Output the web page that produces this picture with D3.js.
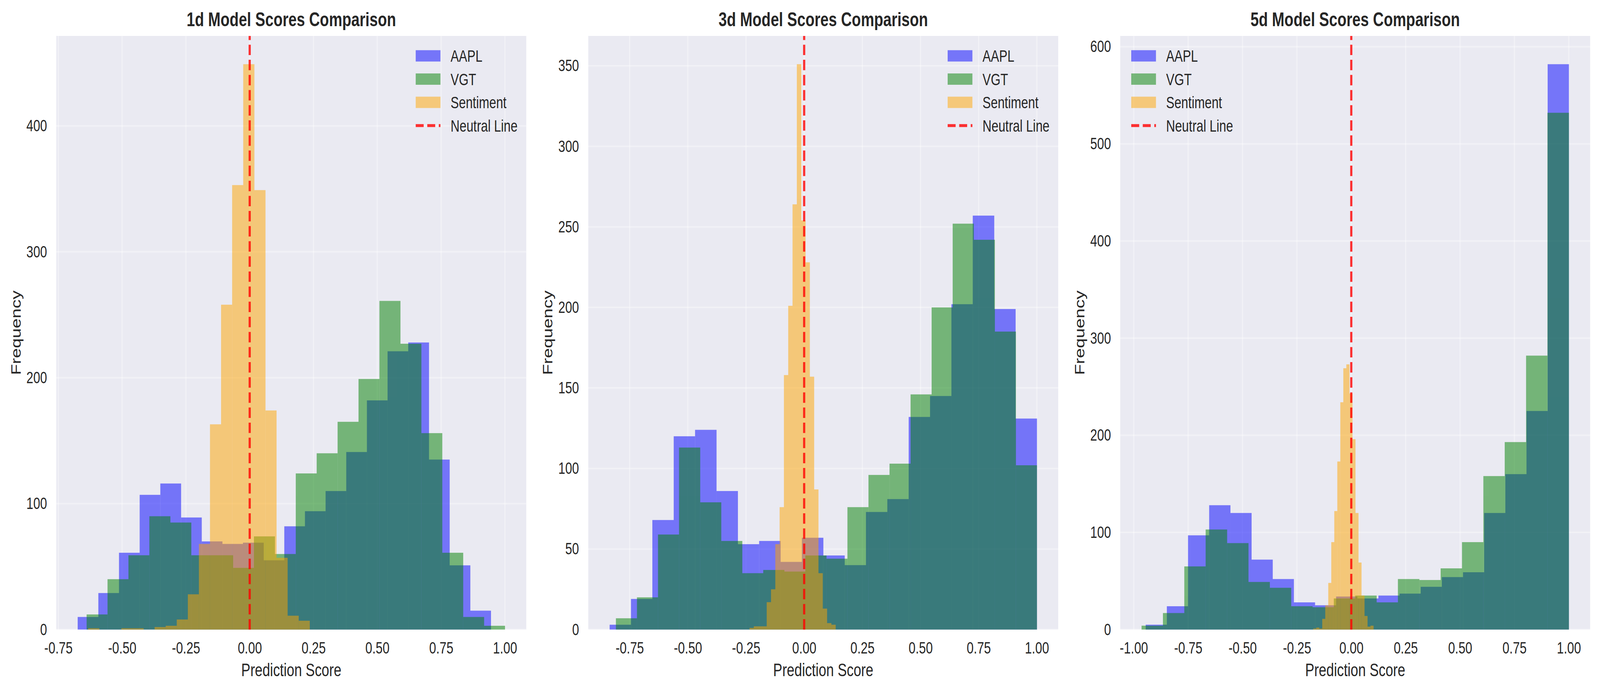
<!DOCTYPE html>
<html>
<head>
<meta charset="utf-8">
<script src="https://cdn.jsdelivr.net/npm/d3@7"></script>
<style>
  html, body { margin: 0; padding: 0; background: #fff; overflow: hidden; width: 100%; height: 100%; }
  #chart svg { display: block; }
  text { font-family: "Liberation Sans", Arial, sans-serif; fill: #262626; }
</style>
</head>
<body>
<div id="chart"></div>
<script>
// histogram counts, 20 equal bins per series between its min and max
const horizons = ["1d", "3d", "5d"];
const seriesNames = ["AAPL", "VGT", "Sentiment"];
const seriesColors = ["#0000ff", "#008000", "#ffa500"];

const aapl1d = [10, 29, 61, 107, 116, 89, 70, 68, 69, 55, 82, 94, 110, 141, 182, 221, 228, 135, 51, 15];
const vgt1d = [12, 40, 59, 90, 85, 59, 59, 49, 74, 60, 124, 140, 165, 199, 261, 227, 156, 61, 10, 3];
const sent1d = [1, 0, 0, 1, 1, 0, 2, 3, 8, 28, 68, 163, 258, 353, 449, 349, 174, 57, 11, 7];
const aapl1dRange = [-0.674, 0.945];
const vgt1dRange = [-0.639, 1.0];
const sent1dRange = [-0.633, 0.235];

const aapl3d = [3, 19, 68, 120, 124, 86, 53, 55, 42, 57, 46, 40, 73, 81, 132, 145, 202, 257, 199, 131];
const vgt3d = [7, 20, 59, 113, 79, 55, 35, 37, 36, 46, 44, 76, 96, 103, 146, 200, 252, 242, 185, 102];
const sent3d = [1, 2, 2, 2, 17, 25, 53, 76, 158, 201, 264, 351, 254, 228, 157, 87, 35, 13, 4, 3];
const aapl3dRange = [-0.836, 1.0];
const vgt3dRange = [-0.809, 1.0];
const sent3dRange = [-0.235, 0.135];

const aapl5d = [5, 24, 97, 128, 120, 72, 52, 28, 25, 34, 32, 35, 37, 44, 54, 59, 120, 160, 225, 582];
const vgt5d = [4, 17, 65, 103, 89, 49, 43, 24, 23, 32, 35, 28, 52, 51, 63, 90, 158, 193, 282, 532];
const sent5d = [1, 2, 1, 11, 25, 48, 90, 122, 173, 234, 269, 273, 243, 196, 120, 69, 35, 14, 3, 4];
const aapl5dRange = [-0.945, 1.0];
const vgt5dRange = [-0.964, 1.0];
const sent5dRange = [-0.175, 0.102];

const xTicks1d = [-0.75, -0.5, -0.25, 0, 0.25, 0.5, 0.75, 1.0];
const xTicks3d = [-0.75, -0.5, -0.25, 0, 0.25, 0.5, 0.75, 1.0];
const xTicks5d = [-1.0, -0.75, -0.5, -0.25, 0, 0.25, 0.5, 0.75, 1.0];
const yTicks1d = [0, 100, 200, 300, 400];
const yTicks3d = [0, 50, 100, 150, 200, 250, 300, 350];
const yTicks5d = [0, 100, 200, 300, 400, 500, 600];

const panels = [
  {counts: [aapl1d, vgt1d, sent1d], ranges: [aapl1dRange, vgt1dRange, sent1dRange], xTicks: xTicks1d, yTicks: yTicks1d, legendLeft: false},
  {counts: [aapl3d, vgt3d, sent3d], ranges: [aapl3dRange, vgt3dRange, sent3dRange], xTicks: xTicks3d, yTicks: yTicks3d, legendLeft: false},
  {counts: [aapl5d, vgt5d, sent5d], ranges: [aapl5dRange, vgt5dRange, sent5dRange], xTicks: xTicks5d, yTicks: yTicks5d, legendLeft: true}
];

const W = 5369, H = 1769;
const axesLeft = [189, 1974, 3759];
const axesTop = 92;
const width = 1577;
const height = 1611.7 - axesTop;

const fmt = d3.formatLocale({decimal: ".", thousands: ",", grouping: [3], currency: ["$", ""], minus: "-"}).format(".2f");

// drawn in a 5369x1769 coordinate system, stretched to whatever the window is
const svg = d3.select("#chart")
  .append("svg")
  .attr("viewBox", "0 0 " + W + " " + H)
  .attr("preserveAspectRatio", "none")
  .style("width", "100vw")
  .style("height", "100vh");

svg.append("rect")
  .attr("width", W)
  .attr("height", H)
  .attr("fill", "#fff");

panels.forEach(function(p, i) {
  const g = svg.append("g")
    .attr("transform", "translate(" + axesLeft[i] + "," + axesTop + ")");

  const lo = d3.min(p.ranges, function(r) { return r[0]; });
  const hi = d3.max(p.ranges, function(r) { return r[1]; });
  const pad = (hi - lo) * 0.05;
  const x = d3.scaleLinear().domain([lo - pad, hi + pad]).range([0, width]);
  const yMax = d3.max(p.counts, function(c) { return d3.max(c); });
  const y = d3.scaleLinear().domain([0, yMax * 1.05]).range([height, 0]);

  g.append("rect")
    .attr("width", width)
    .attr("height", height)
    .attr("fill", "#eaeaf2");

  // grid
  g.selectAll(".vgrid")
    .data(p.xTicks)
    .enter()
    .append("line")
    .attr("x1", function(d) { return x(d); })
    .attr("x2", function(d) { return x(d); })
    .attr("y1", 0)
    .attr("y2", height)
    .attr("stroke", "#fff")
    .attr("stroke-opacity", 0.35)
    .attr("stroke-width", 4.2);

  g.selectAll(".hgrid")
    .data(p.yTicks)
    .enter()
    .append("line")
    .attr("x1", 0)
    .attr("x2", width)
    .attr("y1", function(d) { return y(d); })
    .attr("y2", function(d) { return y(d); })
    .attr("stroke", "#fff")
    .attr("stroke-opacity", 0.35)
    .attr("stroke-width", 4.2);

  // histograms
  p.counts.forEach(function(counts, s) {
    const r = p.ranges[s];
    const step = (r[1] - r[0]) / counts.length;
    const bars = counts.map(function(c, k) {
      return {x0: r[0] + k * step, x1: r[0] + (k + 1) * step, count: c};
    });
    g.append("g")
      .attr("opacity", 0.5)
      .selectAll("rect")
      .data(bars.filter(function(b) { return b.count > 0; }))
      .enter()
      .append("rect")
      .attr("x", function(d) { return x(d.x0); })
      .attr("width", function(d) { return x(d.x1) - x(d.x0) + 0.4; })
      .attr("y", function(d) { return y(d.count); })
      .attr("height", function(d) { return y(0) - y(d.count); })
      .attr("fill", seriesColors[s]);
  });

  // neutral line
  g.append("line")
    .attr("x1", x(0))
    .attr("x2", x(0))
    .attr("y1", height)
    .attr("y2", 0)
    .attr("stroke", "red")
    .attr("stroke-opacity", 0.8)
    .attr("stroke-width", 7.3)
    .attr("stroke-dasharray", "26.7 12");

  // axes
  const xAxis = g.append("g")
    .attr("transform", "translate(0," + height + ")")
    .call(d3.axisBottom(x).tickValues(p.xTicks).tickFormat(fmt).tickSize(0).tickPadding(31.4));
  const yAxis = g.append("g")
    .call(d3.axisLeft(y).tickValues(p.yTicks).tickFormat(d3.format("d")).tickSize(0).tickPadding(31));
  [xAxis, yAxis].forEach(function(a) {
    a.select(".domain").remove();
    a.selectAll("text")
      .attr("fill", "#262626")
      .style("font-size", "41.7px")
      .style("font-family", "'Liberation Sans', Arial, sans-serif");
  });

  g.append("text")
    .attr("x", width / 2)
    .attr("y", -25)
    .attr("text-anchor", "middle")
    .style("font-size", "50px")
    .style("font-weight", "bold")
    .text(horizons[i] + " Model Scores Comparison");

  g.append("text")
    .attr("x", width / 2)
    .attr("y", height + 119.5)
    .attr("text-anchor", "middle")
    .style("font-size", "45.8px")
    .text("Prediction Score");

  g.append("text")
    .attr("transform", "translate(-120," + (height / 2) + ") rotate(-90)")
    .attr("text-anchor", "middle")
    .style("font-size", "45.8px")
    .text("Frequency");

  // legend
  const lx = p.legendLeft ? 37 : width - 371;
  const entries = seriesNames.concat(["Neutral Line"]);
  const leg = g.selectAll(".legend")
    .data(entries)
    .enter()
    .append("g")
    .attr("transform", function(d, j) { return "translate(" + lx + "," + (51 + j * 59.5) + ")"; });

  leg.filter(function(d, j) { return j < 3; })
    .append("rect")
    .attr("x", 0)
    .attr("y", -14.5)
    .attr("width", 83)
    .attr("height", 29)
    .attr("fill", function(d, j) { return seriesColors[j]; })
    .attr("opacity", 0.5);

  leg.filter(function(d, j) { return j === 3; })
    .append("line")
    .attr("x1", 0)
    .attr("x2", 83)
    .attr("stroke", "red")
    .attr("stroke-opacity", 0.8)
    .attr("stroke-width", 7.3)
    .attr("stroke-dasharray", "26.7 12");

  leg.append("text")
    .attr("x", 117)
    .attr("y", 15)
    .style("font-size", "41.7px")
    .text(function(d) { return d; });
});
</script>
</body>
</html>
